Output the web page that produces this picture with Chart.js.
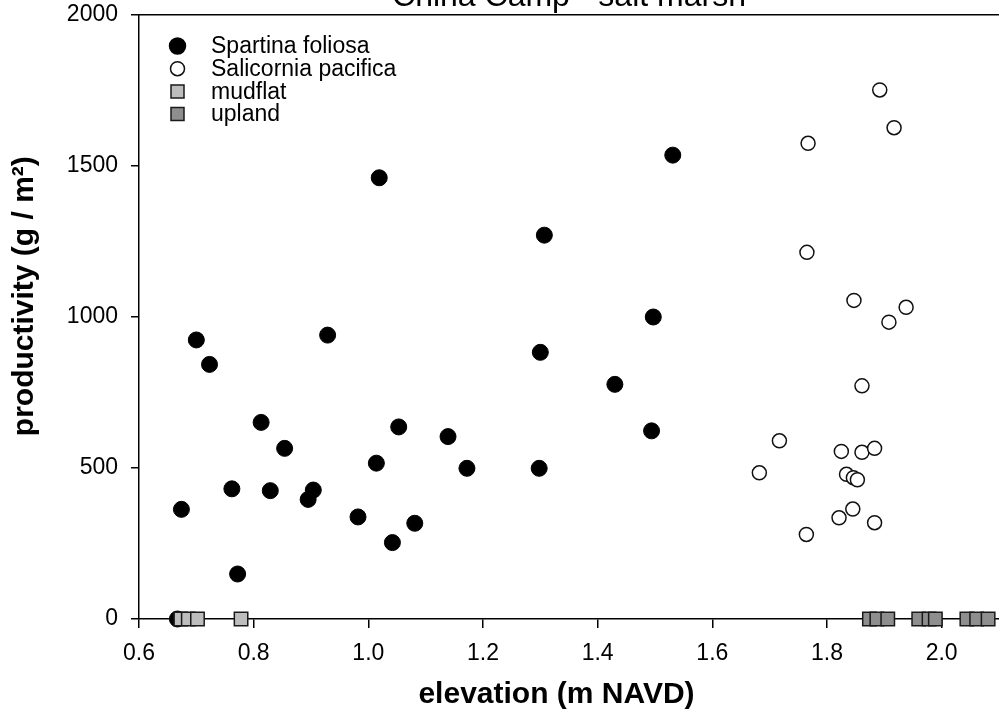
<!DOCTYPE html>
<html>
<head>
<meta charset="utf-8">
<script src="https://cdn.jsdelivr.net/npm/chart.js@4.4.1/dist/chart.umd.min.js"></script>
<style>
    body { margin: 0; overflow: hidden; background: #ffffff; }
    #marshChart { position: absolute; left: 0; top: -20px; }
</style>
</head>
<body>
<canvas id="marshChart" width="1010" height="742"></canvas>
<script>
// elevation (m NAVD) and productivity (g / m2)
var spartinaX = [0.674, 0.700, 0.723, 0.762, 0.772, 0.813, 0.829, 0.854, 0.895, 0.904, 0.929, 0.982, 1.014, 1.019, 1.042, 1.053, 1.081, 1.139, 1.172, 1.298, 1.300, 1.307, 1.430, 1.494, 1.497, 1.531, 0.667];
var spartinaY = [363, 924, 843, 431, 149, 651, 425, 565, 396, 427, 940, 338, 516, 1461, 253, 636, 317, 604, 499, 499, 883, 1271, 777, 623, 1000, 1536, 0];
var salicorniaX = [1.892, 1.917, 1.767, 1.765, 1.847, 1.938, 1.908, 1.861, 1.717, 1.825, 1.861, 1.883, 1.682, 1.834, 1.846, 1.853, 1.845, 1.821, 1.883, 1.764];
var salicorniaY = [1752, 1627, 1575, 1214, 1055, 1032, 983, 772, 590, 555, 552, 565, 484, 479, 468, 461, 364, 335, 319, 280];
var mudflatX = [0.673, 0.686, 0.702, 0.778];
var mudflatY = [0, 0, 0, 0];
var uplandX = [1.874, 1.887, 1.906, 1.960, 1.978, 1.989, 2.044, 2.061, 2.081];
var uplandY = [0, 0, 0, 0, 0, 0, 0, 0, 0];
var seriesNames = ["Spartina foliosa", "Salicornia pacifica", "mudflat", "upland"];
var xTicks = [0.6, 0.8, 1.0, 1.2, 1.4, 1.6, 1.8, 2.0];
var yTicks = [0, 500, 1000, 1500, 2000];

var fontFamily = "Arial, 'Liberation Sans', sans-serif";

function toPoints(xs, ys) {
    return xs.map(function (x, i) { return { x: x, y: ys[i] }; });
}

// legend drawn inside the plot, top left, like the original figure
var insideLegend = {
    id: 'insideLegend',
    afterDatasetsDraw: function (chart) {
        var ctx = chart.ctx;
        var area = chart.chartArea;
        ctx.save();
        ctx.font = "23px " + fontFamily;
        ctx.textBaseline = 'middle';
        chart.data.datasets.forEach(function (ds, i) {
            var cx = area.left + 38.5;
            var cy = area.top + 31 + i * 22.7;
            ctx.beginPath();
            if (ds.pointStyle === 'rect') {
                ctx.rect(cx - 6.5, cy - 6.5, 13, 13);
            } else {
                ctx.arc(cx, cy, ds.legendRadius, 0, Math.PI * 2);
            }
            ctx.fillStyle = ds.backgroundColor;
            ctx.fill();
            ctx.lineWidth = 1.5;
            ctx.strokeStyle = ds.borderColor;
            ctx.stroke();
            ctx.fillStyle = '#000000';
            ctx.fillText(ds.label, area.left + 72, cy + 1);
        });
        ctx.restore();
    }
};

var marshCanvas = document.getElementById("marshChart").getContext("2d");

var scatterChart = new Chart(marshCanvas, {
    type: 'scatter',
    data: {
        datasets: [{
            label: seriesNames[0],
            data: toPoints(spartinaX, spartinaY),
            pointStyle: 'circle',
            pointRadius: 8,
            legendRadius: 8,
            backgroundColor: '#000000',
            borderColor: '#000000',
            borderWidth: 1,
            order: 2,
            clip: false
        }, {
            label: seriesNames[1],
            data: toPoints(salicorniaX, salicorniaY),
            pointStyle: 'circle',
            pointRadius: 7,
            legendRadius: 7,
            backgroundColor: '#ffffff',
            borderColor: '#111111',
            borderWidth: 1.5,
            order: 1,
            clip: false
        }, {
            label: seriesNames[2],
            data: toPoints(mudflatX, mudflatY),
            pointStyle: 'rect',
            pointRadius: 9.5,
            backgroundColor: '#bdbdbd',
            borderColor: '#1a1a1a',
            borderWidth: 1.5,
            order: 0,
            clip: false
        }, {
            label: seriesNames[3],
            data: toPoints(uplandX, uplandY),
            pointStyle: 'rect',
            pointRadius: 9.5,
            backgroundColor: '#8e8e8e',
            borderColor: '#1a1a1a',
            borderWidth: 1.5,
            order: 0,
            clip: false
        }]
    },
    options: {
        responsive: false,
        animation: false,
        devicePixelRatio: 1,
        layout: { padding: { left: 0, right: 4, top: 0, bottom: 0 } },
        plugins: {
            legend: { display: false },
            tooltip: { enabled: false },
            title: {
                display: true,
                fullSize: false,
                text: 'China Camp - salt marsh',
                color: '#000000',
                font: { family: fontFamily, size: 32, weight: 'normal', lineHeight: 1.0 },
                padding: { top: 1, bottom: 2 }
            }
        },
        scales: {
            x: {
                type: 'linear',
                position: 'bottom',
                min: 0.6,
                max: 2.1,
                afterBuildTicks: function (scale) {
                    scale.ticks = xTicks.map(function (v) { return { value: v }; });
                },
                afterFit: function (scale) { scale.height = 103; },
                ticks: {
                    color: '#000000',
                    font: { family: fontFamily, size: 23 },
                    padding: 12,
                    callback: function (v) { return v.toFixed(1); }
                },
                grid: { drawOnChartArea: false, drawTicks: true, tickLength: 9, color: '#000000', lineWidth: 1.5 },
                border: { display: true, color: '#000000', width: 1.5 },
                title: {
                    display: true,
                    text: 'elevation (m NAVD)   ',
                    color: '#000000',
                    font: { family: fontFamily, size: 30, weight: 'bold', lineHeight: 1.2 },
                    padding: { top: 0, bottom: 9 }
                }
            },
            xTop: {
                type: 'linear',
                position: 'top',
                min: 0.6,
                max: 2.1,
                afterFit: function (scale) { scale.height = 0; },
                ticks: { display: false },
                grid: { drawOnChartArea: false, drawTicks: false },
                border: { display: true, color: '#000000', width: 1.5 }
            },
            y: {
                type: 'linear',
                position: 'left',
                min: 0,
                max: 2000,
                afterBuildTicks: function (scale) {
                    scale.ticks = yTicks.map(function (v) { return { value: v }; });
                },
                afterFit: function (scale) { scale.width = 139; },
                ticks: {
                    color: '#000000',
                    font: { family: fontFamily, size: 23 },
                    padding: 13,
                    callback: function (v) { return String(v); }
                },
                grid: { drawOnChartArea: false, drawTicks: true, tickLength: 8, color: '#000000', lineWidth: 1.5 },
                border: { display: true, color: '#000000', width: 1.5 },
                title: {
                    display: true,
                    text: '     productivity (g / m²)',
                    color: '#000000',
                    font: { family: fontFamily, size: 30, weight: 'bold', lineHeight: 1.2 },
                    padding: { top: 7, bottom: 0 }
                }
            }
        }
    },
    plugins: [insideLegend]
});
</script>
</body>
</html>
